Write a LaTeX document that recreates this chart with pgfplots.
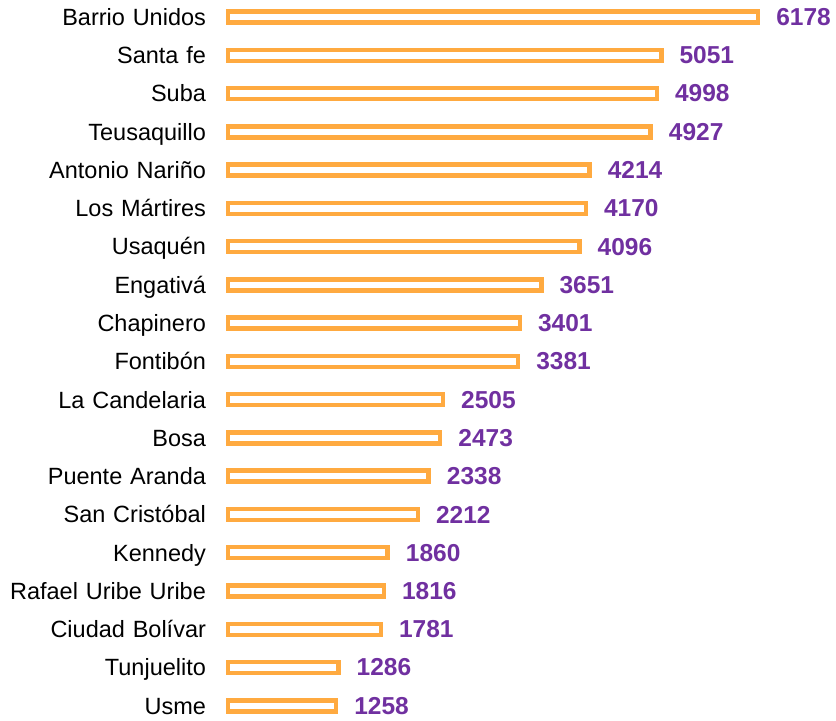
\documentclass[border=0pt]{standalone}
\usepackage{pgfplots}
\usepackage{pgfplotstable}
\pgfplotsset{compat=1.18}
\usepackage{fontspec}
\setmainfont{Liberation Sans}
\definecolor{barorange}{RGB}{255,170,64}
\definecolor{numpurple}{RGB}{112,48,160}
\pgfplotstableread{
idx val
0 6178
1 5051
2 4998
3 4927
4 4214
5 4170
6 4096
7 3651
8 3401
9 3381
10 2505
11 2473
12 2338
13 2212
14 1860
15 1816
16 1781
17 1286
18 1258
}\data
\begin{document}
\begin{tikzpicture}
\begin{axis}[
  x=0.0858bp, y=38.28bp, y dir=reverse,
  xmin=0, xmax=7086, ymin=-0.444, ymax=18.38,
  enlargelimits=false,
  axis line style={draw=none},
  major tick length=0pt,
  xtick=\empty,
  ytick={0,...,18},
  yticklabels={Barrio Unidos,Santa fe,Suba,Teusaquillo,Antonio Nariño,Los Mártires,Usaquén,Engativá,Chapinero,Fontibón,La Candelaria,Bosa,Puente Aranda,San Cristóbal,Kennedy,Rafael Uribe Uribe,Ciudad Bolívar,Tunjuelito,Usme},
  yticklabel style={font=\fontsize{23.5bp}{28bp}\selectfont, inner sep=0pt, xshift=-22bp, text width=206bp, align=right, anchor=east, text height=20bp, text depth=3.2bp},
  xbar, bar width=11bp,
  clip=false,
  nodes near coords={\pgfmathprintnumber[1000 sep={},assume math mode=true]{\pgfplotspointmeta}},
  nodes near coords style={font=\fontsize{24.5bp}{29bp}\selectfont\bfseries, text=numpurple, anchor=west, inner sep=0pt, xshift=16bp},
]
\addplot[draw=barorange, line width=4.5bp, fill=white] table[x=val, y=idx] {\data};
\end{axis}
\end{tikzpicture}
\end{document}
